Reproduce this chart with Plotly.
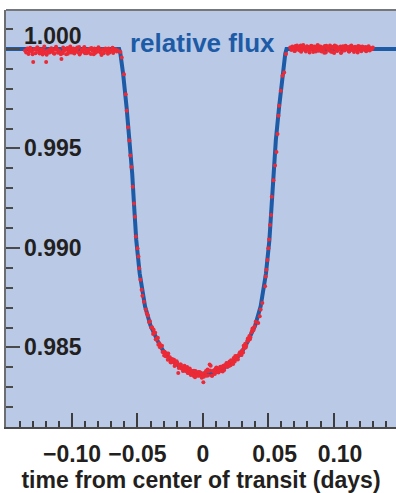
import plotly.graph_objects as go

# ---------------- data ----------------
# model light curve (relative flux vs time from center of transit, days)
model_t = [-0.1600, -0.0640, -0.0630, -0.0620, -0.0609, -0.0583, -0.0558, -0.0540, -0.0525,
           -0.0509, -0.0483, -0.0442, -0.0400, -0.0340, -0.0290, -0.0240, -0.0180, -0.0120,
           -0.0060, 0.0000, 0.0060, 0.0120, 0.0180, 0.0240, 0.0290, 0.0340, 0.0400, 0.0442,
           0.0483, 0.0509, 0.0525, 0.0540, 0.0558, 0.0583, 0.0609, 0.0620, 0.0630, 0.0640, 0.1600]
model_f = [1.00000, 1.00000, 0.99975, 0.99935, 0.99873, 0.99707, 0.99540, 0.99373, 0.99207,
           0.99040, 0.98873, 0.98707, 0.98610, 0.98525, 0.98468, 0.98435, 0.98405, 0.98385,
           0.98370, 0.98365, 0.98370, 0.98385, 0.98405, 0.98435, 0.98468, 0.98525, 0.98610, 0.98707,
           0.98873, 0.99040, 0.99207, 0.99373, 0.99540, 0.99707, 0.99873, 0.99935, 0.99975, 1.00000, 1.00000]

# observed points: before transit
t_pre = [-0.1360, -0.1351, -0.1342, -0.1333, -0.1324, -0.1315, -0.1306, -0.1297, -0.1288, -0.1279,
         -0.1270, -0.1261, -0.1252, -0.1243, -0.1234, -0.1225, -0.1216, -0.1207, -0.1198, -0.1189,
         -0.1180, -0.1171, -0.1162, -0.1153, -0.1144, -0.1135, -0.1126, -0.1117, -0.1108, -0.1099,
         -0.1090, -0.1081, -0.1072, -0.1063, -0.1054, -0.1045, -0.1036, -0.1027, -0.1018, -0.1009,
         -0.1000, -0.0991, -0.0982, -0.0973, -0.0964, -0.0955, -0.0946, -0.0937, -0.0928, -0.0919,
         -0.0910, -0.0901, -0.0892, -0.0883, -0.0874, -0.0865, -0.0856, -0.0847, -0.0838, -0.0829,
         -0.0820, -0.0811, -0.0802, -0.0793, -0.0784, -0.0775, -0.0766, -0.0757, -0.0748, -0.0739,
         -0.0730, -0.0721, -0.0712, -0.0703, -0.0694, -0.0685, -0.0676, -0.0667, -0.0658, -0.0649]
f_pre = [0.99993, 0.99982, 1.00002, 0.99975, 0.99990, 0.99997, 0.99986, 0.99935, 1.00000, 0.99978,
         0.99995, 1.00004, 0.99984, 0.99988, 0.99999, 0.99972, 0.99994, 0.99980, 0.99935, 0.99991,
         0.99983, 0.99983, 1.00001, 0.99987, 0.99998, 0.99976, 0.99996, 1.00003, 0.99981, 0.99992,
         0.99985, 0.99950, 0.99979, 0.99990, 0.99997, 0.99974, 1.00005, 0.99986, 1.00000, 0.99982,
         0.99993, 1.00002, 0.99977, 0.99989, 0.99999, 0.99984, 1.00010, 0.99980, 0.99995, 0.99987,
         1.00004, 0.99978, 0.99992, 0.99998, 0.99983, 1.00001, 0.99975, 0.99994, 0.99990, 1.00003,
         0.99981, 0.99996, 0.99988, 1.00000, 0.99985, 0.99970, 0.99999, 0.99979, 0.99993, 0.99997,
         0.99986, 1.00002, 0.99982, 0.99991, 0.99996, 0.99980, 0.99994, 0.99999, 0.99987, 0.99992]
t_pre2 = [-0.1320, -0.1302, -0.1284, -0.1266, -0.1248, -0.1230, -0.1212, -0.1194, -0.1176, -0.1158,
          -0.1140, -0.1122, -0.1104, -0.1086, -0.1068, -0.1050, -0.1032, -0.1014, -0.0996, -0.0978,
          -0.0960, -0.0942, -0.0924, -0.0906, -0.0888, -0.0870, -0.0852, -0.0834, -0.0816, -0.0798,
          -0.0780, -0.0762, -0.0744, -0.0726, -0.0708, -0.0690]
f_pre2 = [1.00006, 0.99974, 0.99998, 1.00009, 0.99977, 0.99989, 1.00012, 0.99971, 0.99995, 1.00004,
          0.99979, 1.00011, 0.99985, 0.99973, 1.00007, 0.99996, 0.99976, 1.00013, 0.99983, 0.99999,
          1.00008, 0.99972, 0.99991, 1.00010, 0.99978, 0.99997, 1.00005, 0.99974, 0.99988, 1.00009,
          0.99981, 0.99995, 1.00003, 0.99976, 0.99993, 1.00006]

# ingress
t_in = [-0.0630, -0.0620, -0.0603, -0.0590, -0.0582, -0.0572, -0.0562, -0.0554, -0.0546, -0.0536,
        -0.0526, -0.0519, -0.0512, -0.0500, -0.0492, -0.0487, -0.0477, -0.0468, -0.0462, -0.0450,
        -0.0437, -0.0428]
f_in = [0.99985, 0.99957, 0.99873, 0.99773, 0.99690, 0.99607, 0.99540, 0.99465, 0.99407, 0.99307,
        0.99223, 0.99157, 0.99057, 0.98998, 0.98957, 0.98898, 0.98840, 0.98790, 0.98760, 0.98730,
        0.98690, 0.98670]

# bottom of transit
t_bot = [-0.0420, -0.0412, -0.0404, -0.0396, -0.0388, -0.0380, -0.0372, -0.0364, -0.0356, -0.0348,
         -0.0340, -0.0332, -0.0324, -0.0316, -0.0308, -0.0300, -0.0292, -0.0284, -0.0276, -0.0268,
         -0.0260, -0.0252, -0.0244, -0.0236, -0.0228, -0.0220, -0.0212, -0.0204, -0.0196, -0.0188,
         -0.0180, -0.0172, -0.0164, -0.0156, -0.0148, -0.0140, -0.0132, -0.0124, -0.0116, -0.0108,
         -0.0100, -0.0092, -0.0084, -0.0076, -0.0068, -0.0060, -0.0052, -0.0044, -0.0036, -0.0028,
         -0.0020, -0.0012, -0.0004, 0.0004, 0.0012, 0.0020, 0.0028, 0.0036, 0.0044, 0.0052,
         0.0060, 0.0068, 0.0076, 0.0084, 0.0092, 0.0100, 0.0108, 0.0116, 0.0124, 0.0132,
         0.0140, 0.0148, 0.0156, 0.0164, 0.0172, 0.0180, 0.0188, 0.0196, 0.0204, 0.0212,
         0.0220, 0.0228, 0.0236, 0.0244, 0.0252, 0.0260, 0.0268, 0.0276, 0.0284, 0.0292,
         0.0300, 0.0308, 0.0316, 0.0324, 0.0332, 0.0340, 0.0348, 0.0356, 0.0364, 0.0372,
         0.0380, 0.0388, 0.0396, 0.0404]
f_bot = [0.98661, 0.98628, 0.98631, 0.98600, 0.98601, 0.98567, 0.98573, 0.98574, 0.98540, 0.98546,
         0.98513, 0.98521, 0.98502, 0.98509, 0.98477, 0.98478, 0.98478, 0.98455, 0.98470, 0.98438,
         0.98451, 0.98451, 0.98424, 0.98440, 0.98427, 0.98438, 0.98413, 0.98418, 0.98423, 0.98372,
         0.98411, 0.98414, 0.98394, 0.98400, 0.98384, 0.98408, 0.98382, 0.98394, 0.98372, 0.98382,
         0.98394, 0.98362, 0.98381, 0.98365, 0.98383, 0.98350, 0.98371, 0.98362, 0.98376, 0.98358,
         0.98370, 0.98372, 0.98362, 0.98325, 0.98371, 0.98374, 0.98358, 0.98389, 0.98380, 0.98414,
         0.98408, 0.98358, 0.98382, 0.98379, 0.98367, 0.98395, 0.98376, 0.98393, 0.98384, 0.98402,
         0.98382, 0.98400, 0.98408, 0.98386, 0.98406, 0.98421, 0.98402, 0.98414, 0.98429, 0.98411,
         0.98432, 0.98425, 0.98447, 0.98429, 0.98445, 0.98457, 0.98439, 0.98461, 0.98476, 0.98462,
         0.98485, 0.98475, 0.98497, 0.98518, 0.98508, 0.98533, 0.98533, 0.98558, 0.98550, 0.98576,
         0.98595, 0.98588, 0.98605, 0.98629]
t_bot2 = [-0.0376, -0.0360, -0.0344, -0.0328, -0.0312, -0.0296, -0.0280, -0.0264, -0.0248, -0.0232,
          -0.0216, -0.0200, -0.0184, -0.0168, -0.0152, -0.0136, -0.0120, -0.0104, -0.0088, -0.0072,
          -0.0056, -0.0040, -0.0024, -0.0008, 0.0008, 0.0024, 0.0040, 0.0056, 0.0072, 0.0088,
          0.0104, 0.0120, 0.0136, 0.0152, 0.0168, 0.0184, 0.0200, 0.0216, 0.0232, 0.0248,
          0.0264, 0.0280, 0.0296, 0.0312, 0.0328, 0.0344, 0.0360, 0.0376]
f_bot2 = [0.98589, 0.98541, 0.98549, 0.98501, 0.98509, 0.98460, 0.98470, 0.98469, 0.98427, 0.98440,
          0.98406, 0.98430, 0.98397, 0.98414, 0.98381, 0.98398, 0.98402, 0.98370, 0.98383, 0.98358,
          0.98382, 0.98358, 0.98376, 0.98347, 0.98353, 0.98382, 0.98359, 0.98384, 0.98358, 0.98386,
          0.98399, 0.98374, 0.98403, 0.98379, 0.98411, 0.98422, 0.98406, 0.98435, 0.98417, 0.98457,
          0.98442, 0.98470, 0.98462, 0.98509, 0.98500, 0.98545, 0.98541, 0.98584]

# egress
t_eg = [0.0424, 0.0435, 0.0442, 0.0455, 0.0476, 0.0481, 0.0486, 0.0494, 0.0501, 0.0506,
        0.0514, 0.0522, 0.0527, 0.0540, 0.0552, 0.0563, 0.0571, 0.0578, 0.0583, 0.0596,
        0.0609, 0.0622, 0.0636]
f_eg = [0.98623, 0.98657, 0.98690, 0.98723, 0.98807, 0.98857, 0.98890, 0.98940, 0.98998, 0.99043,
        0.99115, 0.99165, 0.99257, 0.99340, 0.99415, 0.99482, 0.99573, 0.99665, 0.99715, 0.99790,
        0.99865, 0.99882, 0.99975]

# after transit
t_post = [0.0668, 0.0676, 0.0684, 0.0692, 0.0700, 0.0708, 0.0716, 0.0724, 0.0732, 0.0740,
          0.0748, 0.0756, 0.0764, 0.0772, 0.0780, 0.0788, 0.0796, 0.0804, 0.0812, 0.0820,
          0.0828, 0.0836, 0.0844, 0.0852, 0.0860, 0.0868, 0.0876, 0.0884, 0.0892, 0.0900,
          0.0908, 0.0916, 0.0924, 0.0932, 0.0940, 0.0948, 0.0956, 0.0964, 0.0972, 0.0980,
          0.0988, 0.0996, 0.1004, 0.1012, 0.1020, 0.1028, 0.1036, 0.1044, 0.1052, 0.1060,
          0.1068, 0.1076, 0.1084, 0.1092, 0.1100, 0.1108, 0.1116, 0.1124, 0.1132, 0.1140,
          0.1148, 0.1156, 0.1164, 0.1172, 0.1180, 0.1188, 0.1196, 0.1204, 0.1212, 0.1220,
          0.1228, 0.1236, 0.1244, 0.1252, 0.1260, 0.1268, 0.1276, 0.1284, 0.1292, 0.1300]
f_post = [1.00008, 0.99995, 1.00012, 1.00002, 0.99990, 1.00015, 1.00005, 0.99998, 1.00010, 0.99992,
          1.00018, 1.00003, 0.99996, 1.00011, 1.00006, 0.99988, 1.00014, 1.00000, 1.00009, 0.99994,
          1.00016, 1.00004, 0.99985, 1.00012, 0.99997, 1.00007, 1.00019, 0.99991, 1.00002, 1.00013,
          0.99987, 1.00006, 0.99999, 1.00015, 0.99982, 1.00009, 1.00003, 0.99993, 1.00017, 0.99986,
          1.00005, 1.00011, 0.99980, 1.00001, 1.00014, 0.99990, 1.00007, 0.99997, 1.00012, 0.99984,
          1.00004, 1.00010, 0.99992, 1.00016, 0.99999, 1.00006, 0.99988, 1.00013, 1.00002, 0.99995,
          1.00009, 0.99985, 1.00011, 1.00003, 0.99994, 1.00015, 0.99998, 1.00007, 0.99989, 1.00012,
          1.00001, 0.99996, 1.00010, 0.99991, 1.00005, 1.00014, 0.99993, 1.00004, 0.99999, 1.00008]
t_post2 = [0.0704, 0.0720, 0.0736, 0.0752, 0.0768, 0.0784, 0.0800, 0.0816, 0.0832, 0.0848,
           0.0864, 0.0880, 0.0896, 0.0912, 0.0928, 0.0944, 0.0960, 0.0976, 0.0992, 0.1008,
           0.1024, 0.1040, 0.1056, 0.1072, 0.1088, 0.1104, 0.1120, 0.1136, 0.1152, 0.1168,
           0.1184, 0.1200, 0.1216, 0.1232, 0.1248, 0.1264]
f_post2 = [0.99990, 1.00017, 1.00001, 0.99986, 1.00020, 0.99995, 1.00011, 0.99983, 1.00015, 1.00002,
           0.99988, 1.00019, 0.99993, 1.00008, 0.99981, 1.00016, 0.99997, 1.00012, 0.99985, 1.00018,
           0.99992, 1.00006, 0.99980, 1.00014, 0.99999, 1.00010, 0.99987, 1.00017, 0.99994, 1.00009,
           0.99983, 1.00013, 0.99996, 1.00007, 0.99989, 1.00011]

# ticks and labels
x_tick_vals = [-0.10, -0.05, 0.0, 0.05, 0.10]
x_tick_text = ["\u22120.10", "\u22120.05", "0", "\u20070.05", "\u20070.10"]
y_tick_vals = [0.985, 0.990, 0.995, 1.000]
y_tick_text = ["0.985", "0.990", "0.995", "1.000"]
series_label = "relative flux"
x_title = "time from center of transit (days)"

# ---------------- styles ----------------
BG = "#bacae6"
BLUE = "#1d5ba6"
RED = "#ec2a36"
TXT = "#231f20"
FONT = "Liberation Sans, Arial, Helvetica, sans-serif"
FS = 23

t_obs = t_pre + t_pre2 + t_in + t_bot + t_bot2 + t_eg + t_post + t_post2
f_obs = f_pre + f_pre2 + f_in + f_bot + f_bot2 + f_eg + f_post + f_post2

fig = go.Figure()
fig.add_trace(go.Scatter(x=model_t, y=model_f, mode="lines",
                         line=dict(color=BLUE, width=4), hoverinfo="skip"))
fig.add_trace(go.Scatter(x=t_obs, y=f_obs, mode="markers",
                         marker=dict(color=RED, size=4, line=dict(width=0))))

# y tick labels drawn inside the plot, left aligned; the top one raised above the line
annotations = []
for i, (v, s) in enumerate(zip(y_tick_vals, y_tick_text)):
    annotations.append(dict(text=s, xref="paper", x=0, xanchor="left", xshift=16,
                            yref="y", y=v, yanchor="middle",
                            yshift=13 if i == len(y_tick_vals) - 1 else 0,
                            showarrow=False,
                            font=dict(family=FONT, size=FS, color=TXT, weight="bold")))
annotations.append(dict(text=series_label, xref="x", x=0.0, xanchor="center",
                        yref="y", y=y_tick_vals[-1], yanchor="middle", yshift=6, showarrow=False,
                        font=dict(family=FONT, size=26, color=BLUE, weight="bold")))

fig.update_layout(
    width=396, height=493,
    margin=dict(l=6, r=0, t=10, b=66),
    plot_bgcolor=BG, paper_bgcolor="white",
    showlegend=False,
    font=dict(family=FONT, color=TXT),
    xaxis=dict(
        range=[-0.1505, 0.1477], tickmode="array", tickvals=x_tick_vals, ticktext=x_tick_text,
        ticks="inside", ticklen=14, tickwidth=1.5, tickcolor="#3d3d3d",
        showline=True, linecolor="#4a4a4a", linewidth=2,
        showgrid=False, zeroline=False,
        tickfont=dict(family=FONT, size=FS, color=TXT, weight="bold"),
        ticklabelstandoff=5,
        minor=dict(dtick=0.01, tick0=0, ticks="inside", ticklen=6, tickwidth=1.5,
                   tickcolor="#3d3d3d", showgrid=False),
        title=dict(text=x_title, font=dict(family=FONT, size=FS, color=TXT, weight="bold"),
                   standoff=6),
    ),
    yaxis=dict(
        range=[0.9810, 1.00196], tickmode="array", tickvals=y_tick_vals,
        showticklabels=False,
        ticks="inside", ticklen=14, tickwidth=1.5, tickcolor="#4a4a4a",
        showline=True, linecolor="#6d6e71", linewidth=2,
        showgrid=False, zeroline=False,
        minor=dict(dtick=0.001, tick0=0.98, ticks="inside", ticklen=7, tickwidth=1.5,
                   tickcolor="#4a4a4a", showgrid=False),
    ),
    shapes=[dict(type="line", xref="paper", yref="paper", x0=0, x1=1, y0=1, y1=1,
                 line=dict(color="#76777a", width=2))],
    annotations=annotations,
)

fig.write_html("out.html", config={"displayModeBar": False})
